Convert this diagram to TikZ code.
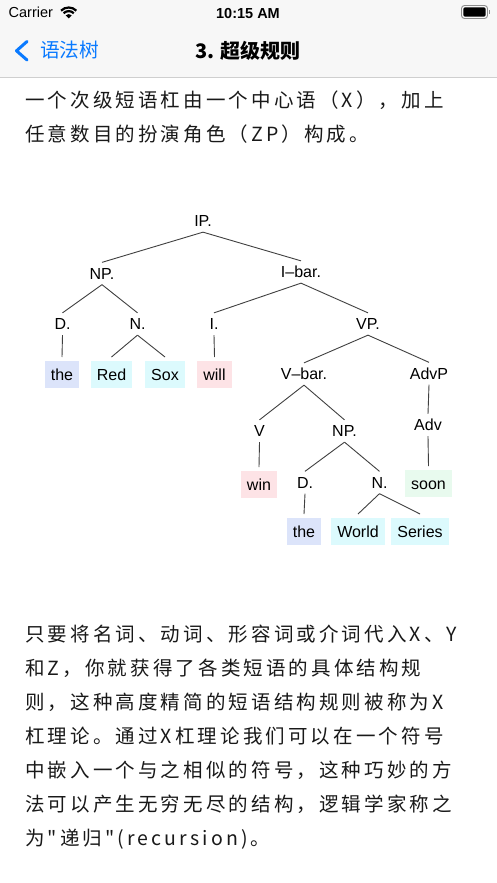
\documentclass[tikz,border=0pt]{standalone}
\usepackage{fontspec}
\setmainfont{Liberation Sans}
\newfontfamily\cjk{Noto Sans CJK SC}
\newfontfamily\cjkbody[LetterSpace=16]{Noto Sans CJK SC}

\definecolor{navbg}{HTML}{F7F7F7}
\definecolor{navline}{HTML}{CFCFCF}
\definecolor{iosblue}{HTML}{0A7AFF}
\definecolor{boxblue}{HTML}{DCE4FA}
\definecolor{boxcyan}{HTML}{DCFAFD}
\definecolor{boxpink}{HTML}{FDE3E6}
\definecolor{boxgreen}{HTML}{E8FAEE}

\tikzset{
	lbl/.style={font=\fontsize{16}{16}\selectfont, text height=11.5pt, text depth=0pt,
		inner xsep=1pt, inner ysep=5.2pt},
	word/.style={font=\fontsize{16}{16}\selectfont, text height=11.8pt, text depth=0.2pt,
		inner xsep=6pt, inner ysep=7.5pt, outer ysep=4pt, fill=#1},
	edge/.style={draw=black!75, line width=0.9pt},
	body/.style={anchor=base west, inner sep=0pt, text=black!90,
		font=\cjkbody\fontsize{19.5}{19.5}\selectfont},
}

\begin{document}
\begin{tikzpicture}[x=1pt, y=-1pt]
	\useasboundingbox (0,0) rectangle (497,883);
	\fill[white] (0,0) rectangle (497,883);

	% Status bar and navigation bar
	\fill[navbg] (0,0) rectangle (497,77);
	\draw[navline, line width=0.8pt] (0,77.5) -- (497,77.5);
	\node[anchor=base west, inner sep=0pt, font=\fontsize{14.5}{14.5}\selectfont] (carrier) at (8.5,18) {Carrier};
	\fill (68.7,18.3) -- ++(-135:4.2) arc[start angle=-135, end angle=-45, radius=4.2] -- cycle;
	\foreach \r in {7.2,10.8}
		\draw[line width=2.2pt] (68.7,18.3) ++(-135:\r) arc[start angle=-135, end angle=-45, radius=\r];
	\node[anchor=base, inner sep=0pt, font=\bfseries\fontsize{14.5}{14.5}\selectfont] (clock) at (248,18.2) {10:15 AM};
	\draw[black!45, line width=0.9pt, rounded corners=3pt] (461.5,5.5) rectangle (487.5,18.5);
	\fill[black, rounded corners=1.5pt] (463.3,7.3) rectangle (485.7,16.7);
	\fill[black!45] (488.5,9.8) rectangle (490,14.2);

	\draw[iosblue, line width=3pt, line cap=round, line join=round] (27,41.5) -- (16.5,50.8) -- (27,60);
	\node[anchor=base west, inner sep=0pt, text=iosblue, font=\cjk\fontsize{19.7}{19.7}\selectfont] (back) at (40,58) {语法树};
	\node[anchor=base, inner sep=0pt, font=\cjk\bfseries\fontsize{20}{20}\selectfont] (title) at (248,59) {3. 超级规则};

	% Text above the tree
	\node[body] (intro1) at (25,107.5) {一个次级短语杠由一个中心语（X），加上};
	\node[body] (intro2) at (25,141.5) {任意数目的扮演角色（ZP）构成。};

	% Tree labels
	\node[lbl] (ip) at (203,221) {IP.};
	\node[lbl] (np) at (102,273.5) {NP.};
	\node[lbl] (ibar) at (301,272) {I–bar.};
	\node[lbl] (d1) at (62.5,324) {D.};
	\node[lbl] (n1) at (137.5,324) {N.};
	\node[lbl] (i1) at (214,324) {I.};
	\node[lbl] (vp) at (368,324) {VP.};
	\node[lbl] (vbar) at (304,374) {V–bar.};
	\node[lbl] (advp) at (429,373.5) {AdvP};
	\node[lbl] (v) at (259.5,431) {V};
	\node[lbl] (np2) at (344.5,431) {NP.};
	\node[lbl] (adv) at (428,425) {Adv};
	\node[lbl] (d2) at (305,482.5) {D.};
	\node[lbl] (n2) at (379.5,482.5) {N.};

	% Words
	\node[word=boxblue] (the1) at (62,374.5) {the};
	\node[word=boxcyan] (red) at (111.5,374.5) {Red};
	\node[word=boxcyan] (sox) at (165,374.5) {Sox};
	\node[word=boxpink] (will) at (214.5,374.5) {will};
	\node[word=boxpink] (win) at (259,484.5) {win};
	\node[word=boxgreen] (soon) at (428.5,483.5) {soon};
	\node[word=boxblue] (the2) at (304,531.5) {the};
	\node[word=boxcyan] (world) at (358,531.5) {World};
	\node[word=boxcyan] (series) at (420,531.5) {Series};

	% Branches
	\foreach \a/\b in {ip/np, ip/ibar, np/d1, np/n1, d1/the1, n1/red, n1/sox,
		ibar/i1, ibar/vp, i1/will, vp/vbar, vp/advp, vbar/v, vbar/np2, advp/adv,
		v/win, adv/soon, np2/d2, np2/n2, d2/the2, n2/world, n2/series}
		\draw[edge] (\a.south) -- (\b.north);

	% Text below the tree
	\foreach \t [count=\i] in {
		{只要将名词、动词、形容词或介词代入X、Y},
		{和Z，你就获得了各类短语的具体结构规},
		{则，这种高度精简的短语结构规则被称为X},
		{杠理论。通过X杠理论我们可以在一个符号},
		{中嵌入一个与之相似的符号，这种巧妙的方},
		{法可以产生无穷无尽的结构，逻辑学家称之},
		{为"递归"(recursion)。}}
		\node[body] (para\i) at (25,{641.5+34*(\i-1)}) {\t};
\end{tikzpicture}
\end{document}
